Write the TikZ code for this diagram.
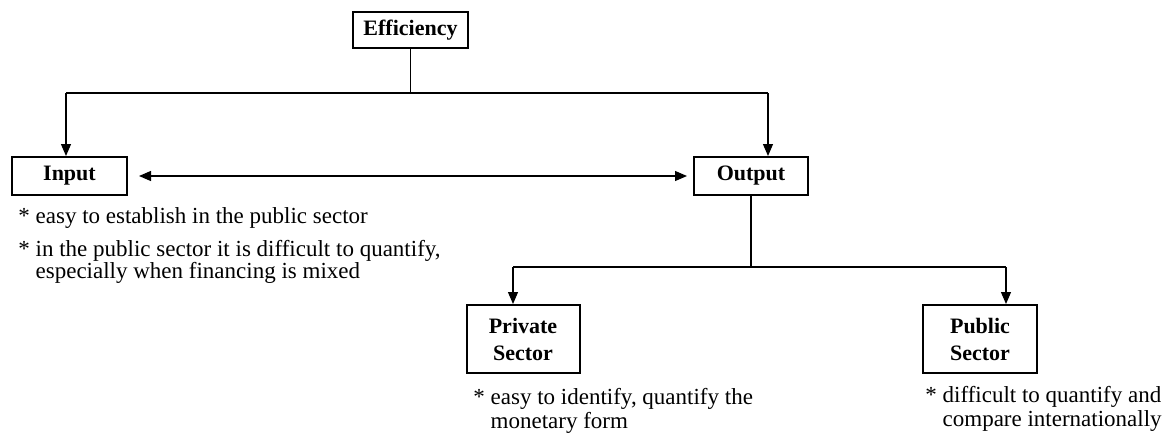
\documentclass[tikz,border=0pt]{standalone}
\usepackage{fontspec}
\setmainfont{Liberation Serif}
\usetikzlibrary{arrows.meta}
\begin{document}
\begin{tikzpicture}[x=0.5pt,y=-0.5pt,
  box/.style={draw,line width=1pt,font=\fontsize{11}{13.5}\selectfont\bfseries,inner sep=0pt,align=center},
  conn/.style={line width=0.6pt},
  tip/.tip={Triangle[length=6pt,width=5pt]},
  arr/.style={conn,-tip},
  note/.style={anchor=base west,inner sep=0pt,font=\fontsize{11.5}{13}\selectfont}]
\useasboundingbox (0,0) rectangle (1168,435);
% boxes
\node[box,minimum width=57.5pt,minimum height=18pt] (eff) at (410.5,30) {Efficiency};
\node[box,minimum width=57.5pt,minimum height=19pt] (in) at (69.5,176) {Input};
\node[box,minimum width=57pt,minimum height=19pt] (out) at (751,176) {Output};
\node[box,minimum width=56.5pt,minimum height=34pt] (priv) at (523,339) {Private\\Sector};
\node[box,minimum width=57pt,minimum height=34pt] (pub) at (980,339) {Public\\Sector};
% branch points
\coordinate (tl) at (66,93);
\coordinate (tr) at (768,93);
\coordinate (bl) at (513,267);
\coordinate (br) at (1006,267);
% connectors
\draw[conn] (eff.south) -- (eff.south |- tl);
\draw[conn] (tl) -- (tr);
\draw[arr] (tl) -- (tl |- in.north);
\draw[arr] (tr) -- (tr |- out.north);
\draw[conn,tip-tip,shorten <=5.5pt,shorten >=3pt] (in.east) -- (out.west);
\draw[conn] (out.south) -- (out.south |- bl);
\draw[conn] (bl) -- (br);
\draw[arr] (bl) -- (bl |- priv.north);
\draw[arr] (br) -- (br |- pub.north);
% notes
\node[note] (n1) at (18,223) {* easy to establish in the public sector};
\node[note] (n2a) at (18,256) {* in the public sector it is difficult to quantify,};
\node[note] (n2b) at (18,278) {\hphantom{*}\ especially when financing is mixed};
\node[note] (p1) at (473,404) {* easy to identify, quantify the};
\node[note] (p2) at (473,428) {\hphantom{*}\ monetary form};
\node[note] (q1) at (925,402) {* difficult to quantify and};
\node[note] (q2) at (925,426) {\hphantom{*}\ compare internationally};
\end{tikzpicture}
\end{document}
